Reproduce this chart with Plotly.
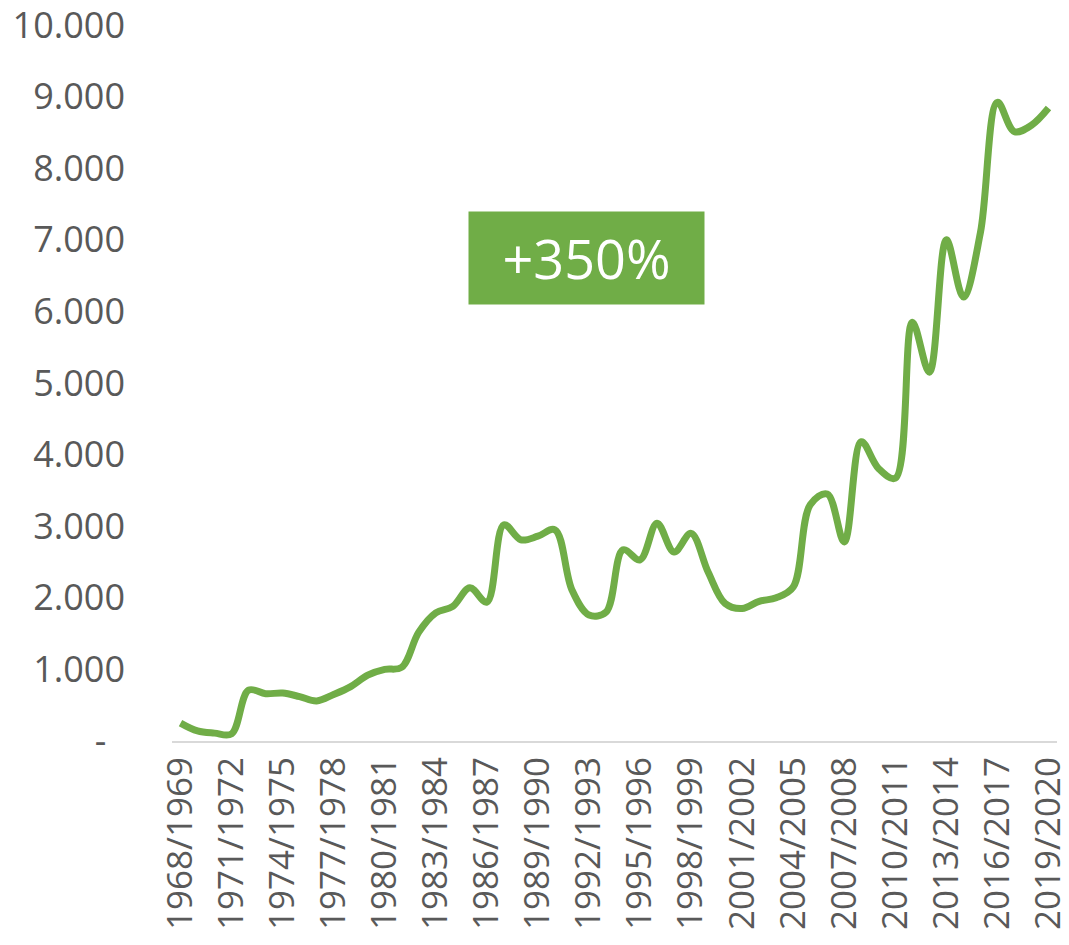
import plotly.graph_objects as go

# Seasons 1968/1969 .. 2019/2020
seasons = [f"{y}/{y + 1}" for y in range(1968, 2020)]

values = [
    250, 140, 110, 100, 710, 660, 670, 620, 560, 650,
    760, 920, 1000, 1030, 1520, 1790, 1880, 2140, 1940, 3020,
    2810, 2860, 2950, 2110, 1760, 1800, 2670, 2530, 3040, 2640,
    2900, 2360, 1920, 1850, 1950, 2000, 2150, 3300, 3450, 2780,
    4180, 3810, 3670, 5850, 5150, 7000, 6200, 7100, 8920, 8510,
    8600, 8840,
]

tick_labels = seasons[::3]
y_ticks = list(range(0, 10001, 1000))
y_tick_text = ["-\u00a0\u00a0"] + [f"{v // 1000}.000" for v in y_ticks[1:]]

GREEN = "#70AD47"
GREY = "#595959"

fig = go.Figure()
fig.add_trace(go.Scatter(
    x=seasons,
    y=values,
    mode="lines",
    line=dict(color=GREEN, width=7, shape="spline", smoothing=1.0),
    hoverinfo="x+y",
))

fig.add_annotation(
    x=0.468, y=0.675, xref="paper", yref="paper",
    xanchor="center", yanchor="middle",
    text="+350%",
    showarrow=False,
    font=dict(size=54, color="white", family="Open Sans"),
    bgcolor=GREEN,
    width=235, height=92,
    borderpad=0,
)

fig.update_layout(
    width=1069, height=945,
    margin=dict(l=172, r=12, t=25, b=204),
    plot_bgcolor="white",
    paper_bgcolor="white",
    showlegend=False,
    font=dict(family="Open Sans", size=35, color=GREY),
    xaxis=dict(
        type="category",
        range=[-0.5, len(seasons) - 0.5],
        tickvals=tick_labels,
        ticktext=tick_labels,
        tickangle=-90,
        tickfont=dict(size=35),
        showgrid=False,
        showline=True,
        linecolor="#D9D9D9",
        linewidth=2,
        ticks="",
        ticklabelstandoff=0,
        ticklabeloverflow="allow",
        automargin=False,
    ),
    yaxis=dict(
        range=[0, 10000],
        tickvals=y_ticks,
        ticktext=y_tick_text,
        tickfont=dict(size=36),
        showgrid=False,
        zeroline=False,
        showline=False,
        ticks="",
        ticklabelstandoff=46,
        ticklabeloverflow="allow",
        automargin=False,
    ),
)

# drop the default page margin so the figure sits at the window's corner
fig.write_html(
    "out.html",
    config={"displayModeBar": False},
    post_script="document.body.style.margin='0';",
)
